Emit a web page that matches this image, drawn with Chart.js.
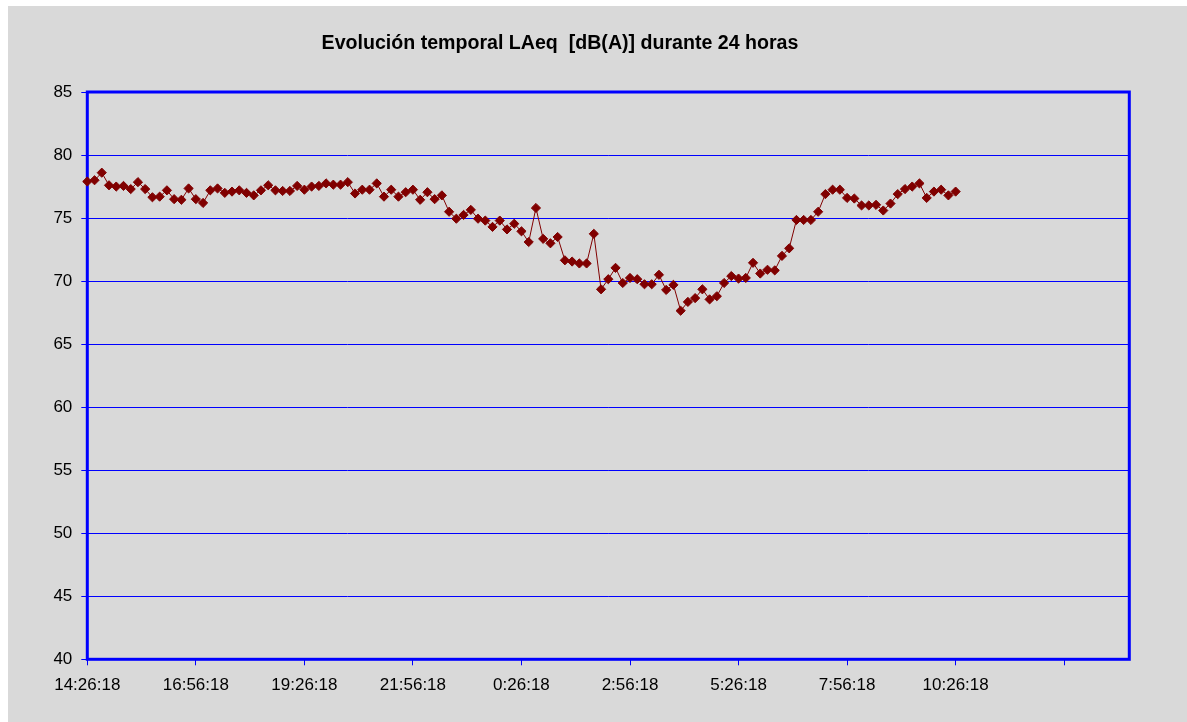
<!DOCTYPE html>
<html>
<head>
<meta charset="utf-8">
<script src="https://cdn.jsdelivr.net/npm/chart.js@4"></script>
<style>
  html, body { margin: 0; padding: 0; background: #ffffff; }
  #wrap { position: absolute; left: 8px; top: 6px; width: 1179px; height: 716px; background: #d9d9d9; }
  canvas { display: block; }
</style>
</head>
<body>
<div id="wrap"><canvas id="c" width="1179" height="716"></canvas></div>
<script>
const chartTitle = 'Evolución temporal LAeq  [dB(A)] durante 24 horas';

const times = [
  '14:26:18','14:36:18','14:46:18','14:56:18',
  '15:06:18','15:16:18','15:26:18','15:36:18','15:46:18','15:56:18',
  '16:06:18','16:16:18','16:26:18','16:36:18','16:46:18','16:56:18',
  '17:06:18','17:16:18','17:26:18','17:36:18','17:46:18','17:56:18',
  '18:06:18','18:16:18','18:26:18','18:36:18','18:46:18','18:56:18',
  '19:06:18','19:16:18','19:26:18','19:36:18','19:46:18','19:56:18',
  '20:06:18','20:16:18','20:26:18','20:36:18','20:46:18','20:56:18',
  '21:06:18','21:16:18','21:26:18','21:36:18','21:46:18','21:56:18',
  '22:06:18','22:16:18','22:26:18','22:36:18','22:46:18','22:56:18',
  '23:06:18','23:16:18','23:26:18','23:36:18','23:46:18','23:56:18',
  '0:06:18','0:16:18','0:26:18','0:36:18','0:46:18','0:56:18',
  '1:06:18','1:16:18','1:26:18','1:36:18','1:46:18','1:56:18',
  '2:06:18','2:16:18','2:26:18','2:36:18','2:46:18','2:56:18',
  '3:06:18','3:16:18','3:26:18','3:36:18','3:46:18','3:56:18',
  '4:06:18','4:16:18','4:26:18','4:36:18','4:46:18','4:56:18',
  '5:06:18','5:16:18','5:26:18','5:36:18','5:46:18','5:56:18',
  '6:06:18','6:16:18','6:26:18','6:36:18','6:46:18','6:56:18',
  '7:06:18','7:16:18','7:26:18','7:36:18','7:46:18','7:56:18',
  '8:06:18','8:16:18','8:26:18','8:36:18','8:46:18','8:56:18',
  '9:06:18','9:16:18','9:26:18','9:36:18','9:46:18','9:56:18',
  '10:06:18','10:16:18','10:26:18'
];

const laeq = [
  77.9, 78.0, 78.6, 77.6, 77.5, 77.55, 77.3, 77.85, 77.3, 76.65,
  76.7, 77.2, 76.5, 76.45, 77.35, 76.5, 76.2, 77.2, 77.35, 77.0,
  77.1, 77.2, 77.0, 76.8, 77.2, 77.6, 77.2, 77.15, 77.15, 77.55,
  77.25, 77.5, 77.55, 77.75, 77.65, 77.65, 77.85, 76.95, 77.25, 77.25,
  77.75, 76.7, 77.25, 76.7, 77.05, 77.25, 76.45, 77.05, 76.5, 76.8,
  75.5, 74.95, 75.25, 75.65, 74.95, 74.8, 74.3, 74.8, 74.1, 74.55,
  73.95, 73.1, 75.8, 73.35, 73.0, 73.5, 71.65, 71.55, 71.4, 71.4,
  73.75, 69.35, 70.15, 71.05, 69.85, 70.25, 70.15, 69.75, 69.75, 70.5,
  69.3, 69.7, 67.65, 68.35, 68.65, 69.35, 68.55, 68.8, 69.85, 70.4,
  70.2, 70.25, 71.45, 70.6, 70.9, 70.85, 72.0, 72.6, 74.85, 74.85,
  74.85, 75.5, 76.9, 77.25, 77.25, 76.6, 76.55, 76.0, 76.0, 76.05,
  75.6, 76.15, 76.9, 77.3, 77.5, 77.75, 76.6, 77.1, 77.25, 76.8,
  77.1
];

const yMin = 40, yMax = 85, yStep = 5;
const totalCategories = 145;
const labelEvery = 15;

const categories = times.concat(new Array(totalCategories - times.length).fill(''));

const BLUE = '#0000ff';
const DARKRED = '#800000';
const FONT = "'Liberation Sans', Arial, sans-serif";

const framePlugin = {
  id: 'frame',
  beforeDatasetsDraw(chart) {
    const a = chart.chartArea, ctx = chart.ctx;
    ctx.save();
    ctx.strokeStyle = BLUE;
    ctx.lineWidth = 3;
    ctx.strokeRect(a.left, a.top, a.right - a.left, a.bottom - a.top);
    ctx.restore();
  },
  afterDraw(chart) {
    const ctx = chart.ctx;
    ctx.save();
    ctx.fillStyle = '#000000';
    ctx.font = "bold 19.6px " + FONT;
    ctx.textAlign = 'center';
    ctx.textBaseline = 'middle';
    ctx.fillText(chartTitle, 552, 37.5);
    ctx.restore();
  }
};

function isShownTick(ctx) {
  return ctx.tick && ctx.tick.label !== null && ctx.tick.label !== undefined;
}

new Chart(document.getElementById('c'), {
  type: 'line',
  data: {
    labels: categories,
    datasets: [{
      data: laeq,
      borderColor: DARKRED,
      backgroundColor: DARKRED,
      borderWidth: 1,
      pointStyle: 'rectRot',
      pointRadius: 4.6,
      pointBackgroundColor: DARKRED,
      pointBorderColor: DARKRED,
      pointBorderWidth: 1,
      tension: 0,
      fill: false
    }]
  },
  options: {
    responsive: false,
    animation: false,
    layout: { padding: { top: 86, right: 57.7, left: 0, bottom: 0 } },
    plugins: {
      legend: { display: false },
      title: { display: false },
      tooltip: { enabled: false }
    },
    scales: {
      x: {
        type: 'category',
        offset: false,
        afterFit(scale) { scale.height = 62.7; },
        border: { display: false },
        grid: {
          display: true,
          drawOnChartArea: false,
          drawTicks: true,
          tickLength: 6,
          lineWidth: 1,
          color: (ctx) => (isShownTick(ctx) ? BLUE : 'rgba(0,0,0,0)'),
          tickColor: (ctx) => (isShownTick(ctx) ? BLUE : 'rgba(0,0,0,0)')
        },
        ticks: {
          autoSkip: false,
          maxRotation: 0,
          minRotation: 0,
          padding: 10,
          color: '#000000',
          font: { family: FONT, size: 17 },
          callback: function (value, index) {
            return index % labelEvery === 0 ? this.getLabelForValue(value) : null;
          }
        }
      },
      y: {
        min: yMin,
        max: yMax,
        afterFit(scale) { scale.width = 79.3; },
        border: { display: false },
        grid: {
          display: true,
          color: BLUE,
          lineWidth: 1,
          drawTicks: true,
          tickLength: 6,
          tickColor: BLUE
        },
        ticks: {
          stepSize: yStep,
          padding: 9,
          color: '#000000',
          font: { family: FONT, size: 17 }
        }
      }
    }
  },
  plugins: [framePlugin]
});
</script>
</body>
</html>
